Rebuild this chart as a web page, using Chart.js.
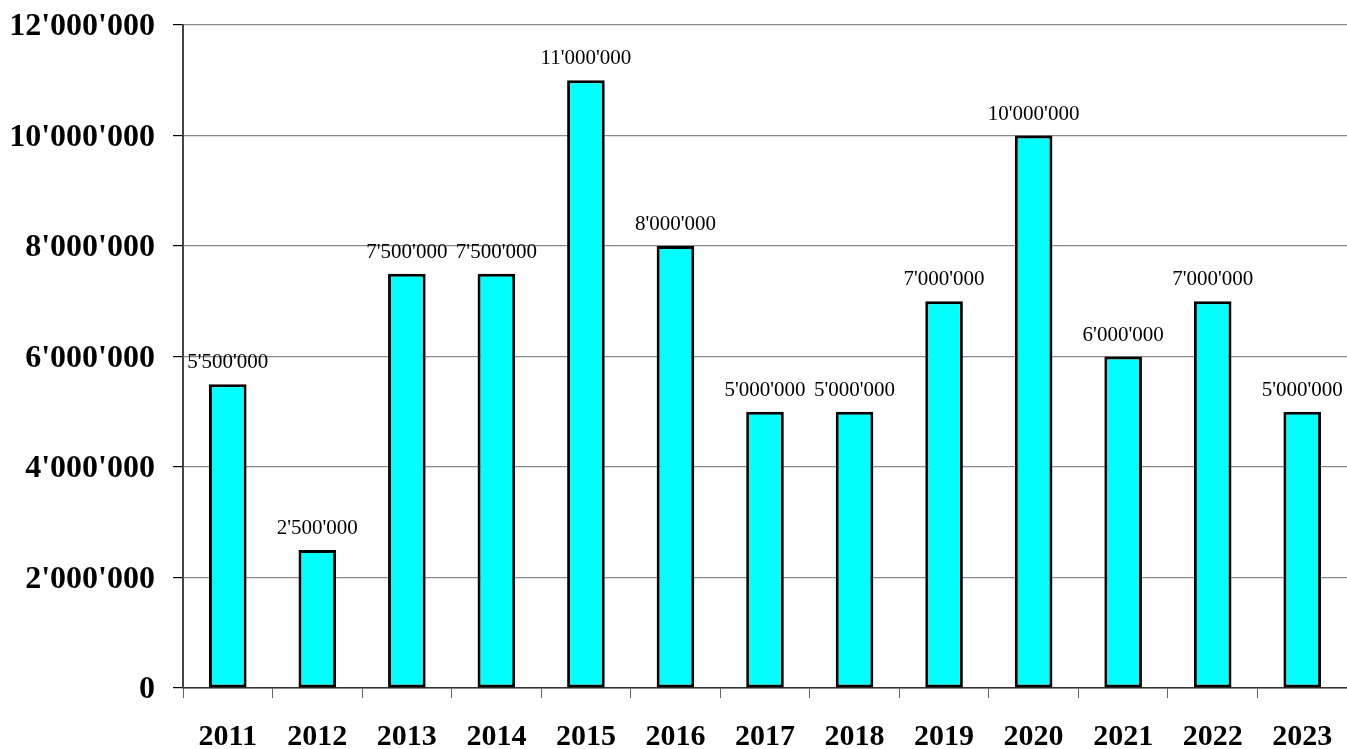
<!DOCTYPE html>
<html>
<head>
<meta charset="utf-8">
<title>Jahreswerte 2011-2023</title>
<script src="https://cdn.jsdelivr.net/npm/chart.js@4.4.1/dist/chart.umd.min.js"></script>
<style>
    html, body { margin: 0; padding: 0; background: #fff; }
    #wrap { width: 1347px; height: 749px; }
</style>
</head>
<body>
<div id="wrap"><canvas id="grafica" width="1347" height="749"></canvas></div>
<script>
// Years and yearly values
const years = ['2011', '2012', '2013', '2014', '2015', '2016', '2017', '2018', '2019', '2020', '2021', '2022', '2023'];
const values = [5500000, 2500000, 7500000, 7500000, 11000000, 8000000, 5000000, 5000000, 7000000, 10000000, 6000000, 7000000, 5000000];
const yMax = 12000000;
const yStep = 2000000;

const serif = '"Liberation Serif", "Times New Roman", serif';

// 12000000 -> 12'000'000
function swissFormat(n) {
    return String(n).replace(/\B(?=(\d{3})+(?!\d))/g, "'");
}

// Value written above each bar
const barValueLabels = {
    id: 'barValueLabels',
    afterDatasetsDraw(chart) {
        const ctx = chart.ctx;
        const meta = chart.getDatasetMeta(0);
        ctx.save();
        ctx.font = '21px ' + serif;
        ctx.fillStyle = '#000';
        ctx.textAlign = 'center';
        ctx.textBaseline = 'alphabetic';
        meta.data.forEach((bar, i) => {
            ctx.fillText(swissFormat(values[i]), bar.x, bar.y - 16);
        });
        ctx.restore();
    }
};

new Chart(document.getElementById('grafica'), {
    type: 'bar',
    data: {
        labels: years,
        datasets: [{
            data: values,
            backgroundColor: '#00FFFF',
            borderColor: '#000',
            borderWidth: 3,
            borderSkipped: false,
            categoryPercentage: 1,
            barPercentage: 0.42
        }]
    },
    options: {
        responsive: false,
        animation: false,
        layout: { padding: { top: 25, right: 0, left: 0, bottom: 0 } },
        plugins: {
            legend: { display: false },
            tooltip: { enabled: false }
        },
        scales: {
            x: {
                grid: {
                    offset: true,
                    drawOnChartArea: false,
                    drawTicks: true,
                    tickLength: 10,
                    tickColor: '#666',
                    lineWidth: 1
                },
                border: { color: '#333', width: 1.5 },
                ticks: {
                    color: '#000',
                    padding: 21,
                    font: { family: serif, size: 30, weight: 'bold' }
                },
                afterFit(scale) {
                    scale.height = 61;
                    scale.paddingLeft = 0;
                    scale.paddingRight = 0;
                }
            },
            y: {
                min: 0,
                max: yMax,
                grid: {
                    color: '#8a8a8a',
                    lineWidth: 1.2,
                    tickLength: 10,
                    tickColor: '#000'
                },
                border: { color: '#444', width: 2 },
                ticks: {
                    stepSize: yStep,
                    color: '#000',
                    padding: 18,
                    labelOffset: 2,
                    font: { family: serif, size: 32, weight: 'bold' },
                    callback: (v) => swissFormat(v)
                },
                afterFit(scale) {
                    scale.width = 183;
                    scale.paddingTop = 0;
                    scale.paddingBottom = 0;
                }
            }
        }
    },
    plugins: [barValueLabels]
});
</script>
</body>
</html>
